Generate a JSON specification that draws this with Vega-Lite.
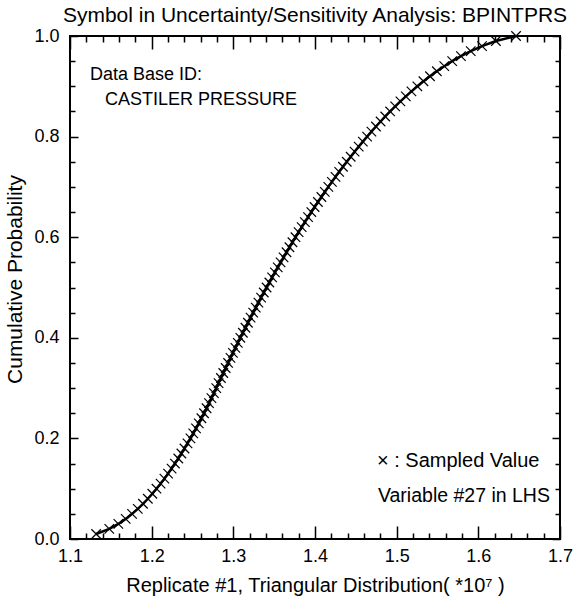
{
  "$schema": "https://vega.github.io/schema/vega-lite/v6.json",
  "width": 490,
  "height": 503,
  "autosize": {"type": "none"},
  "padding": {"left": 70, "top": 36, "right": 15, "bottom": 63},
  "background": "white",
  "config": {
    "view": {"stroke": "black", "strokeWidth": 2},
    "font": "Liberation Sans"
  },
  "title": {
    "text": "Symbol in Uncertainty/Sensitivity Analysis:  BPINTPRS",
    "font": "Liberation Sans",
    "fontSize": 21,
    "fontWeight": "normal",
    "color": "black",
    "anchor": "middle",
    "offset": 1
  },
  "layer": [
    {
      "data": {
        "values": [
          {"x": 1.1320, "p": 0.01}, {"x": 1.1481, "p": 0.02}, {"x": 1.1592, "p": 0.03}, {"x": 1.1682, "p": 0.04}, {"x": 1.1760, "p": 0.05},
          {"x": 1.1830, "p": 0.06}, {"x": 1.1894, "p": 0.07}, {"x": 1.1953, "p": 0.08}, {"x": 1.2008, "p": 0.09}, {"x": 1.2059, "p": 0.10},
          {"x": 1.2109, "p": 0.11}, {"x": 1.2156, "p": 0.12}, {"x": 1.2201, "p": 0.13}, {"x": 1.2244, "p": 0.14}, {"x": 1.2285, "p": 0.15},
          {"x": 1.2326, "p": 0.16}, {"x": 1.2364, "p": 0.17}, {"x": 1.2402, "p": 0.18}, {"x": 1.2439, "p": 0.19}, {"x": 1.2475, "p": 0.20},
          {"x": 1.2509, "p": 0.21}, {"x": 1.2543, "p": 0.22}, {"x": 1.2577, "p": 0.23}, {"x": 1.2609, "p": 0.24}, {"x": 1.2641, "p": 0.25},
          {"x": 1.2672, "p": 0.26}, {"x": 1.2702, "p": 0.27}, {"x": 1.2732, "p": 0.28}, {"x": 1.2762, "p": 0.29}, {"x": 1.2791, "p": 0.30},
          {"x": 1.2819, "p": 0.31}, {"x": 1.2848, "p": 0.32}, {"x": 1.2877, "p": 0.33}, {"x": 1.2906, "p": 0.34}, {"x": 1.2936, "p": 0.35},
          {"x": 1.2965, "p": 0.36}, {"x": 1.2995, "p": 0.37}, {"x": 1.3025, "p": 0.38}, {"x": 1.3055, "p": 0.39}, {"x": 1.3086, "p": 0.40},
          {"x": 1.3117, "p": 0.41}, {"x": 1.3148, "p": 0.42}, {"x": 1.3179, "p": 0.43}, {"x": 1.3211, "p": 0.44}, {"x": 1.3243, "p": 0.45},
          {"x": 1.3275, "p": 0.46}, {"x": 1.3307, "p": 0.47}, {"x": 1.3340, "p": 0.48}, {"x": 1.3373, "p": 0.49}, {"x": 1.3407, "p": 0.50},
          {"x": 1.3441, "p": 0.51}, {"x": 1.3475, "p": 0.52}, {"x": 1.3509, "p": 0.53}, {"x": 1.3544, "p": 0.54}, {"x": 1.3579, "p": 0.55},
          {"x": 1.3615, "p": 0.56}, {"x": 1.3651, "p": 0.57}, {"x": 1.3687, "p": 0.58}, {"x": 1.3724, "p": 0.59}, {"x": 1.3761, "p": 0.60},
          {"x": 1.3799, "p": 0.61}, {"x": 1.3837, "p": 0.62}, {"x": 1.3876, "p": 0.63}, {"x": 1.3915, "p": 0.64}, {"x": 1.3955, "p": 0.65},
          {"x": 1.3995, "p": 0.66}, {"x": 1.4036, "p": 0.67}, {"x": 1.4078, "p": 0.68}, {"x": 1.4120, "p": 0.69}, {"x": 1.4163, "p": 0.70},
          {"x": 1.4207, "p": 0.71}, {"x": 1.4251, "p": 0.72}, {"x": 1.4296, "p": 0.73}, {"x": 1.4342, "p": 0.74}, {"x": 1.4389, "p": 0.75},
          {"x": 1.4437, "p": 0.76}, {"x": 1.4485, "p": 0.77}, {"x": 1.4535, "p": 0.78}, {"x": 1.4586, "p": 0.79}, {"x": 1.4638, "p": 0.80},
          {"x": 1.4691, "p": 0.81}, {"x": 1.4746, "p": 0.82}, {"x": 1.4803, "p": 0.83}, {"x": 1.4860, "p": 0.84}, {"x": 1.4920, "p": 0.85},
          {"x": 1.4982, "p": 0.86}, {"x": 1.5046, "p": 0.87}, {"x": 1.5112, "p": 0.88}, {"x": 1.5181, "p": 0.89}, {"x": 1.5253, "p": 0.90},
          {"x": 1.5328, "p": 0.91}, {"x": 1.5408, "p": 0.92}, {"x": 1.5492, "p": 0.93}, {"x": 1.5583, "p": 0.94}, {"x": 1.5680, "p": 0.95},
          {"x": 1.5787, "p": 0.96}, {"x": 1.5907, "p": 0.97}, {"x": 1.6045, "p": 0.98}, {"x": 1.6215, "p": 0.99}, {"x": 1.6462, "p": 1.00}
        ]
      },
      "encoding": {
        "x": {
          "field": "x", "type": "quantitative",
          "scale": {"domain": [1.1, 1.7], "nice": false, "zero": false},
          "axis": {
            "orient": "bottom",
            "values": [1.1, 1.12, 1.14, 1.16, 1.18, 1.2, 1.22, 1.24, 1.26, 1.28, 1.3, 1.32, 1.34, 1.36, 1.38, 1.4, 1.42, 1.44, 1.46, 1.48, 1.5, 1.52, 1.54, 1.56, 1.58, 1.6, 1.62, 1.64, 1.66, 1.68, 1.7],
            "format": ".1f",
            "labelExpr": "abs(datum.value*10 - round(datum.value*10)) < 0.001 ? datum.label : ''",
            "ticks": false,
            "domain": false,
            "grid": true,
            "gridColor": "black", "gridOpacity": 1, "gridWidth": 1.5,
            "gridDash": {"condition": {"test": "abs(datum.value*10 - round(datum.value*10)) < 0.001", "value": [13, 477, 13, 1000]}, "value": [6, 491, 6, 1000]},
            "labelFont": "Liberation Sans", "labelFontSize": 18, "labelColor": "black",
            "labelPadding": 8, "labelFlush": false, "labelOverlap": false,
            "title": "Replicate #1, Triangular Distribution( *10⁷ )",
            "titleFont": "Liberation Sans", "titleFontSize": 20, "titleFontWeight": "normal", "titleColor": "black",
            "titlePadding": 10
          }
        },
        "y": {
          "field": "p", "type": "quantitative",
          "scale": {"domain": [0, 1], "nice": false},
          "axis": {
            "orient": "left",
            "values": [0, 0.05, 0.1, 0.15, 0.2, 0.25, 0.3, 0.35, 0.4, 0.45, 0.5, 0.55, 0.6, 0.65, 0.7, 0.75, 0.8, 0.85, 0.9, 0.95, 1],
            "format": ".1f",
            "labelExpr": "abs(datum.value*5 - round(datum.value*5)) < 0.001 ? datum.label : ''",
            "ticks": false,
            "domain": false,
            "grid": true,
            "gridColor": "black", "gridOpacity": 1, "gridWidth": 1.5,
            "gridDash": {"condition": {"test": "abs(datum.value*5 - round(datum.value*5)) < 0.001", "value": [8, 474, 8, 1000]}, "value": [5, 480, 5, 1000]},
            "labelFont": "Liberation Sans", "labelFontSize": 18, "labelColor": "black",
            "labelPadding": 11, "labelFlush": false, "labelOverlap": false,
            "title": "Cumulative Probability",
            "titleFont": "Liberation Sans", "titleFontSize": 21, "titleFontWeight": "normal", "titleColor": "black",
            "titlePadding": 8,
            "titleY": 243
          }
        }
      },
      "layer": [
        {"mark": {"type": "line", "color": "black", "strokeWidth": 2.5, "clip": true}},
        {
          "mark": {
            "type": "point",
            "shape": "M-1,-1L1,1M-1,1L1,-1",
            "filled": false,
            "stroke": "black",
            "strokeWidth": 1.2,
            "size": 90,
            "opacity": 1
          }
        }
      ]
    },
    {
      "data": {"values": [{}]},
      "mark": {"type": "text", "text": "Data Base ID:", "align": "left", "baseline": "alphabetic", "font": "Liberation Sans", "fontSize": 18, "fill": "black"},
      "encoding": {
        "x": {"datum": 1.1245, "type": "quantitative", "axis": null},
        "y": {"datum": 0.9116, "type": "quantitative", "axis": null}
      }
    },
    {
      "data": {"values": [{}]},
      "mark": {"type": "text", "text": "CASTILER  PRESSURE", "align": "left", "baseline": "alphabetic", "font": "Liberation Sans", "fontSize": 18, "fill": "black"},
      "encoding": {
        "x": {"datum": 1.1429, "type": "quantitative", "axis": null},
        "y": {"datum": 0.862, "type": "quantitative", "axis": null}
      }
    },
    {
      "data": {"values": [{}]},
      "mark": {"type": "text", "text": "× : Sampled Value", "align": "left", "baseline": "alphabetic", "font": "Liberation Sans", "fontSize": 20, "fill": "black"},
      "encoding": {
        "x": {"datum": 1.4759, "type": "quantitative", "axis": null},
        "y": {"datum": 0.1436, "type": "quantitative", "axis": null}
      }
    },
    {
      "data": {"values": [{}]},
      "mark": {"type": "text", "text": "Variable #27 in LHS", "align": "left", "baseline": "alphabetic", "font": "Liberation Sans", "fontSize": 19.5, "fill": "black"},
      "encoding": {
        "x": {"datum": 1.4771, "type": "quantitative", "axis": null},
        "y": {"datum": 0.0741, "type": "quantitative", "axis": null}
      }
    }
  ],
  "resolve": {"axis": {"x": "independent", "y": "independent"}}
}
